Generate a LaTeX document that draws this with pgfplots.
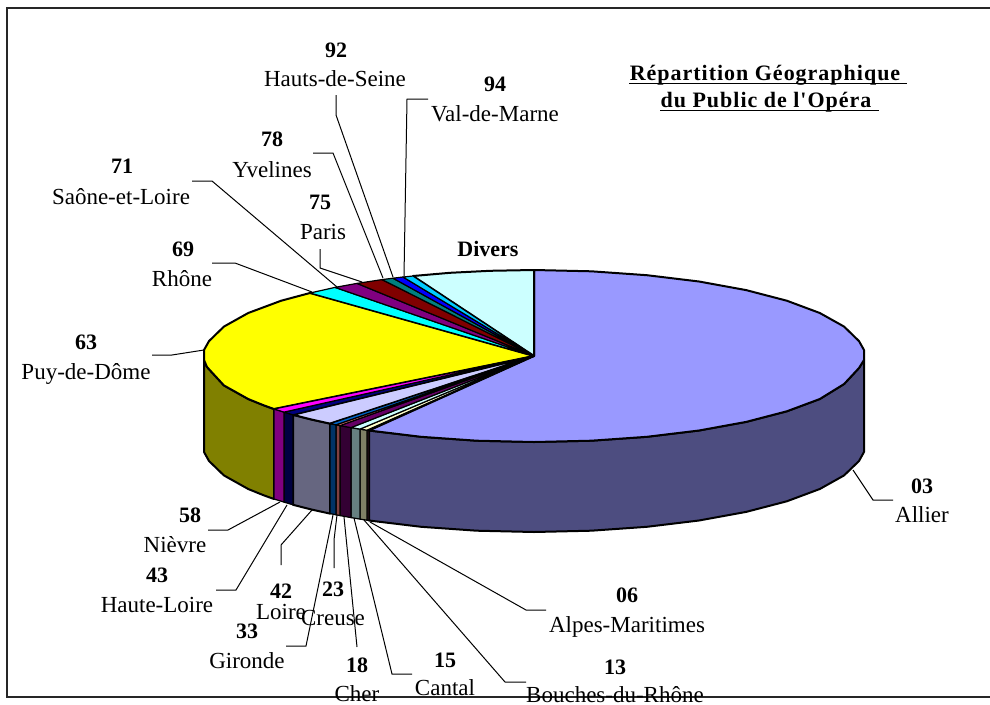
\documentclass[border=0pt]{standalone}
\usepackage{fontspec}
\setmainfont{Liberation Serif}
\newfontfamily\spaced[LetterSpace=4.5]{Liberation Serif}
\usepackage{pgfplots}
\pgfplotsset{compat=1.18}

\definecolor{c03}{HTML}{9999FF}\definecolor{s03}{HTML}{4D4D80}
\definecolor{c06}{HTML}{993366}\definecolor{s06}{HTML}{4D1A33}
\definecolor{c13}{HTML}{FFFFCC}\definecolor{s13}{HTML}{808066}
\definecolor{c15}{HTML}{CCFFFF}\definecolor{s15}{HTML}{668080}
\definecolor{c18}{HTML}{660066}\definecolor{s18}{HTML}{330033}
\definecolor{c23}{HTML}{FF8080}\definecolor{s23}{HTML}{804040}
\definecolor{c33}{HTML}{0066CC}\definecolor{s33}{HTML}{003366}
\definecolor{c42}{HTML}{CCCCFF}\definecolor{s42}{HTML}{666680}
\definecolor{c43}{HTML}{000080}\definecolor{s43}{HTML}{000040}
\definecolor{c58}{HTML}{FF00FF}\definecolor{s58}{HTML}{800080}
\definecolor{c63}{HTML}{FFFF00}\definecolor{s63}{HTML}{808000}
\definecolor{c69}{HTML}{00FFFF}
\definecolor{c71}{HTML}{800080}
\definecolor{c75}{HTML}{800000}
\definecolor{c78}{HTML}{008080}
\definecolor{c92}{HTML}{0000FF}
\definecolor{c94}{HTML}{00CCFF}
\definecolor{cdiv}{HTML}{CCFFFF}

\newcommand{\lb}[3]{\node[inner sep=0pt,anchor=center,font=\fontsize{23}{23}\selectfont] at (#1,#2) {#3};}
\newcommand{\bl}[3]{\node[inner sep=0pt,anchor=center,font=\fontsize{22}{22}\selectfont\bfseries] at (#1,#2) {#3};}

\begin{document}
\begin{tikzpicture}
\begin{axis}[
    scale only axis, width=990pt, height=704pt,
    xmin=0, xmax=990, ymin=0, ymax=704, y dir=reverse,
    hide axis, clip=true,
    pie/.style={draw=black, line width=2pt, line join=round},
    thin pie/.style={draw=black, line width=1.2pt, line join=round},
    lead/.style={draw=black, line width=1pt},
]
% keeps the page at the full 990x704
\addplot[draw=none] coordinates {(0,0)(990,0)(990,704)(0,704)} --cycle;

% frame
\addplot[draw=black!85, line width=1.6pt] coordinates {(990,8)(7,8)(7,697)(990,697)};

% side walls
\addplot[pie, fill=s03] coordinates {(864,360)(859,368)(844.1,384)(819.8,399)(786.8,411.3)(746.1,421.9)(699,430.5)(646.9,436.8)(591.3,440.7)(534,442)(476.7,440.7)(421.1,436.8)(369,430.5)
  (369,520.5)(421.1,526.8)(476.7,530.7)(534,532)(591.3,530.7)(646.9,526.8)(699,520.5)(746.1,511.9)(786.8,501.3)(819.8,489)(844.1,475.4)(859,461)(864,452)} --cycle;
\addplot[pie, fill=s63] coordinates {(274,409)(263.7,405.3)(248.2,399)(223.9,385.4)(207,367)(204,360)
  (204,452)(209,461)(223.9,475.4)(248.2,489)(263.7,495.3)(274,499)} --cycle;
\addplot[pie, fill=s42] coordinates {(330,423.6)(311,419.4)(293,414.8)(293,504.8)(311,509.4)(330,513.6)} --cycle;
\addplot[thin pie, fill=s06] coordinates {(369,430.5)(367,430.2)(367,520.2)(369,520.5)} --cycle;
\addplot[thin pie, fill=s13] coordinates {(367,430.2)(360,429.1)(360,519.1)(367,520.2)} --cycle;
\addplot[thin pie, fill=s15] coordinates {(360,429.1)(351,427.6)(351,517.6)(360,519.1)} --cycle;
\addplot[thin pie, fill=s18] coordinates {(351,427.6)(340,425.6)(340,515.6)(351,517.6)} --cycle;
\addplot[thin pie, fill=s23] coordinates {(340,425.6)(336,424.8)(336,514.8)(340,515.6)} --cycle;
\addplot[thin pie, fill=s33] coordinates {(336,424.8)(330,423.6)(330,513.6)(336,514.8)} --cycle;
\addplot[thin pie, fill=s43] coordinates {(293,414.8)(284,412.1)(284,502.1)(293,504.8)} --cycle;
\addplot[thin pie, fill=s58] coordinates {(284,412.1)(274,409)(274,499)(284,502.1)} --cycle;

% top faces
\addplot[pie, fill=c03] coordinates {(534,356)(534,270)(591.3,271.3)(646.9,275.2)(699,281.5)(746.1,290.1)(786.8,300.7)(819.8,313)(844.1,326.6)(859,341.1)(864,350)(864,360)(859,368)(844.1,384)(819.8,399)(786.8,411.3)(746.1,421.9)(699,430.5)(646.9,436.8)(591.3,440.7)(534,442)(476.7,440.7)(421.1,436.8)(369,430.5)} --cycle;
\addplot[pie, fill=c63] coordinates {(534,356)(274,409)(263.7,405.3)(248.2,399)(223.9,385.4)(207,367)(204,360)(204,350)(209,341.1)(223.9,326.6)(248.2,313)(281.2,300.7)(310,293)} --cycle;
\addplot[pie, fill=cdiv] coordinates {(534,356)(413,276)(450,272.8)(490,270.8)(534,270)} --cycle;
\addplot[pie, fill=c42] coordinates {(534,356)(330,423.6)(311,419.4)(293,414.8)} --cycle;
\addplot[thin pie, fill=c06] coordinates {(534,356)(369,430.5)(367,430.2)} --cycle;
\addplot[thin pie, fill=c13] coordinates {(534,356)(367,430.2)(360,429.1)} --cycle;
\addplot[thin pie, fill=c15] coordinates {(534,356)(360,429.1)(351,427.6)} --cycle;
\addplot[thin pie, fill=c18] coordinates {(534,356)(351,427.6)(340,425.6)} --cycle;
\addplot[thin pie, fill=c23] coordinates {(534,356)(340,425.6)(336,424.8)} --cycle;
\addplot[thin pie, fill=c33] coordinates {(534,356)(336,424.8)(330,423.6)} --cycle;
\addplot[thin pie, fill=c43] coordinates {(534,356)(293,414.8)(284,412.1)} --cycle;
\addplot[thin pie, fill=c58] coordinates {(534,356)(284,412.1)(274,409)} --cycle;
\addplot[thin pie, fill=c69] coordinates {(534,356)(310,293)(335,287.4)} --cycle;
\addplot[thin pie, fill=c71] coordinates {(534,356)(335,287.4)(357,283.4)} --cycle;
\addplot[thin pie, fill=c75] coordinates {(534,356)(357,283.4)(382,279.6)} --cycle;
\addplot[thin pie, fill=c78] coordinates {(534,356)(382,279.6)(393,278.2)} --cycle;
\addplot[thin pie, fill=c92] coordinates {(534,356)(393,278.2)(403,277)} --cycle;
\addplot[thin pie, fill=c94] coordinates {(534,356)(403,277)(413,276)} --cycle;

% leader lines
\addplot[lead] coordinates {(853,470)(873,500)(893,500)};
\addplot[lead] coordinates {(370,522)(526,610)(546,610)};
\addplot[lead] coordinates {(364,520)(505,682)(526,682)};
\addplot[lead] coordinates {(354,518)(392,674)(412,674)};
\addplot[lead] coordinates {(344,517)(357,647)};
\addplot[lead] coordinates {(337,515)(334,540)(334,568)};
\addplot[lead] coordinates {(333,515)(306,646)(286,646)};
\addplot[lead] coordinates {(312,510)(281,545)(281,565)};
\addplot[lead] coordinates {(287,505)(236,590)(216,590)};
\addplot[lead] coordinates {(280,502)(228,530)(208,530)};
\addplot[lead] coordinates {(204,350)(172,355)(152,355)};
\addplot[lead] coordinates {(312,292)(235,263)(212,263)};
\addplot[lead] coordinates {(337,287)(212,181)(192,181)};
\addplot[lead] coordinates {(362,282)(320,268)(320,249)};
\addplot[lead] coordinates {(383,278)(333,153)(313,153)};
\addplot[lead] coordinates {(393,277)(336,115)(336,95)};
\addplot[lead] coordinates {(404,276)(407,99)(428,99)};

% title underlines
\addplot[draw=black, line width=1.8pt] coordinates {(629,83.5)(907,83.5)};
\addplot[draw=black, line width=1.8pt] coordinates {(660,110.5)(879,110.5)};

\bl{336}{50}{92}\lb{335}{79}{Hauts-de-Seine}
\bl{495}{84}{94}\lb{495}{114}{Val-de-Marne}
\bl{272}{139}{78}\lb{272}{170}{Yvelines}
\bl{122}{166}{71}\lb{121}{197}{Saône-et-Loire}
\bl{320}{202}{75}\lb{323}{232}{Paris}
\bl{183}{249}{69}\lb{182}{279}{Rhône}
\bl{86}{342}{63}\lb{86}{374}{Puy-de-Dôme}
\bl{488}{249}{Divers}
\bl{922}{486}{03}\lb{922}{515}{Allier}
\bl{627}{595}{06}\lb{627}{627}{Alpes-Maritimes}
\bl{615}{667}{13}\lb{615}{695}{Bouches-du-Rhône}
\bl{445}{660}{15}\lb{445}{688}{Cantal}
\bl{357}{665}{18}\lb{357}{694}{Cher}
\bl{333}{589}{23}\lb{333}{618}{Creuse}
\bl{247}{631}{33}\lb{247}{661}{Gironde}
\bl{281}{591}{42}\lb{281}{612}{Loire}
\bl{157}{575}{43}\lb{157}{605}{Haute-Loire}
\bl{190}{515}{58}\lb{175}{545}{Nièvre}
\node[inner sep=0pt,font=\fontsize{22}{22}\selectfont\spaced\bfseries] at (765,75) {Répartition Géographique};
\node[inner sep=0pt,font=\fontsize{22}{22}\selectfont\spaced\bfseries] at (766,102) {du Public de l'Opéra};
\end{axis}
\end{tikzpicture}
\end{document}
